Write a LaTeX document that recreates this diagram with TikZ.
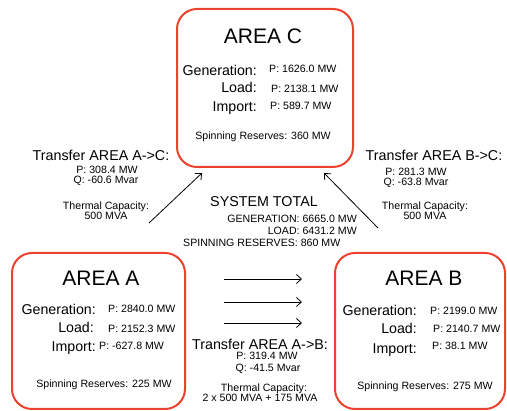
\documentclass[tikz,border=0pt]{standalone}
\usepackage{fontspec}
\setmainfont{Liberation Sans}
\usetikzlibrary{arrows.meta}
\definecolor{areared}{RGB}{238,66,48}
\tikzset{
  areabox/.style={draw=areared, line width=2pt, rounded corners=20pt, inner sep=0pt},
  areatitle/.style={font=\fontsize{21}{24}\selectfont, inner sep=0pt, anchor=base},
  rowlabel/.style={font=\fontsize{14.2}{16}\selectfont, inner sep=0pt, anchor=base east},
  rowvalue/.style={font=\fontsize{10.6}{12}\selectfont, inner sep=0pt, anchor=base west},
  smalltext/.style={font=\fontsize{10.6}{12}\selectfont, inner sep=0pt, anchor=base},
  headtext/.style={font=\fontsize{14.3}{16}\selectfont, inner sep=0pt, anchor=base},
  flow/.style={line width=0.8pt, -{Straight Barb[length=5pt, width=9pt]}}
}
\begin{document}
\begin{tikzpicture}[x=1pt, y=-1pt]
\useasboundingbox (0,0) rectangle (507,411);

% area boxes
\node[areabox, minimum width=176pt, minimum height=158pt] (areaC) at (265,88) {};
\node[areabox, minimum width=173pt, minimum height=156pt] (areaA) at (98.5,331) {};
\node[areabox, minimum width=170pt, minimum height=156pt] (areaB) at (420,331) {};

% AREA C
\node[areatitle] (tC) at (263,44) {AREA C};
\node[rowlabel] (gC) at (257,76) {Generation:};
\node[rowvalue] (gCv) at (269,73) {P: 1626.0 MW};
\node[rowlabel] (lC) at (257,93) {Load:};
\node[rowvalue] (lCv) at (271,93) {P: 2138.1 MW};
\node[rowlabel] (iC) at (257,112) {Import:};
\node[rowvalue] (iCv) at (270,110) {P: 589.7 MW};
\node[smalltext] (sC) at (263,140) {Spinning Reserves: 360 MW};

% AREA A
\node[areatitle] (tA) at (101,286) {AREA A};
\node[rowlabel] (gA) at (96,315) {Generation:};
\node[rowvalue] (gAv) at (108,313) {P: 2840.0 MW};
\node[rowlabel] (lA) at (94,333) {Load:};
\node[rowvalue] (lAv) at (108,333) {P: 2152.3 MW};
\node[rowlabel] (iA) at (96,352) {Import:};
\node[rowvalue] (iAv) at (99,350) {P: -627.8 MW};
\node[smalltext] (sA) at (104,388) {Spinning Reserves: 225 MW};

% AREA B
\node[areatitle] (tB) at (424,286) {AREA B};
\node[rowlabel] (gB) at (417,316) {Generation:};
\node[rowvalue] (gBv) at (430,315) {P: 2199.0 MW};
\node[rowlabel] (lB) at (417,334) {Load:};
\node[rowvalue] (lBv) at (433,333) {P: 2140.7 MW};
\node[rowlabel] (iB) at (417,354) {Import:};
\node[rowvalue] (iBv) at (432,350) {P: 38.1 MW};
\node[smalltext] (sB) at (425,390) {Spinning Reserves: 275 MW};

% transfer A -> C
\node[headtext] (hAC) at (101,161) {Transfer AREA A->C:};
\node[smalltext] (pAC) at (107,174) {P: 308.4 MW};
\node[smalltext] (qAC) at (106,184) {Q: -60.6 Mvar};
\node[smalltext] (cAC) at (106,210) {Thermal Capacity:};
\node[smalltext] (mAC) at (106,220) {500 MVA};

% transfer B -> C
\node[headtext] (hBC) at (434,161) {Transfer AREA B->C:};
\node[smalltext] (pBC) at (416,176) {P: 281.3 MW};
\node[smalltext] (qBC) at (416,186) {Q: -63.8 Mvar};
\node[smalltext] (cBC) at (425,210) {Thermal Capacity:};
\node[smalltext] (mBC) at (425,220) {500 MVA};

% system total
\node[headtext] (hST) at (264,207) {SYSTEM TOTAL};
\node[smalltext, anchor=base east] (gST) at (357,223) {GENERATION: 6665.0 MW};
\node[smalltext, anchor=base east] (lST) at (357,235) {LOAD: 6431.2 MW};
\node[smalltext, anchor=base west] (sST) at (183,247) {SPINNING RESERVES: 860 MW};

% transfer A -> B
\node[headtext] (hAB) at (260,350) {Transfer AREA A->B:};
\node[smalltext] (pAB) at (267,360) {P: 319.4 MW};
\node[smalltext] (qAB) at (268,372) {Q: -41.5 Mvar};
\node[smalltext] (cAB) at (264,392) {Thermal Capacity:};
\node[smalltext] (mAB) at (260,402) {2 x 500 MVA + 175 MVA};

% flow arrows
\coordinate (acS) at (149,223);
\coordinate (acE) at (202,173);
\coordinate (bcS) at (378,228);
\coordinate (bcE) at (324,173);
\coordinate (ab1S) at (224,279);
\coordinate (ab1E) at (302,279);
\coordinate (ab2S) at (224,302);
\coordinate (ab2E) at (302,302);
\coordinate (ab3S) at (224,323);
\coordinate (ab3E) at (302,323);
\draw[flow] (acS) -- (acE);
\draw[flow] (bcS) -- (bcE);
\draw[flow] (ab1S) -- (ab1E);
\draw[flow] (ab2S) -- (ab2E);
\draw[flow] (ab3S) -- (ab3E);
\end{tikzpicture}
\end{document}
